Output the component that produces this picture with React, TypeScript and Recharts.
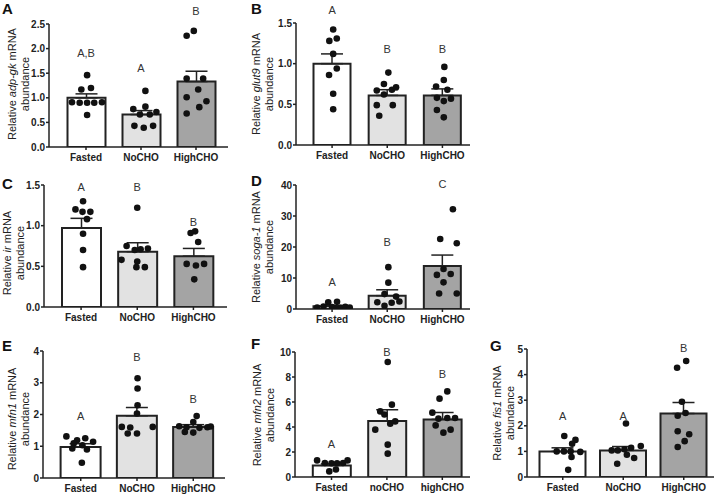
import React from 'react'
import { ComposedChart, Bar, Cell, ErrorBar, Scatter, XAxis, YAxis, ReferenceDot } from 'recharts'

const FONT = '"Liberation Sans", Arial, Helvetica, sans-serif'
const INK = '#222'
const FILLS = ['#ffffff', '#e2e2e2', '#a4a4a4']

const groups = ['Fasted', 'NoCHO', 'HighCHO']
const groupsLower = ['Fasted', 'noCHO', 'highCHO']

// A: adp-gk
const aMeans = [1.0, 0.66, 1.33]
const aSem = [0.08, 0.08, 0.21]
const aDots = [
  [1.46, 1.17, 1.2, 0.91, 0.9, 0.9, 0.9, 0.91, 0.65],
  [1.14, 0.77, 0.82, 0.71, 0.66, 0.66, 0.43, 0.39, 0.43],
  [2.26, 2.36, 1.39, 1.39, 1.17, 1.01, 0.93, 0.81, 0.68],
]
const aJitter = [
  [0.02, -0.085, 0.09, -0.255, -0.115, 0.02, 0.15, 0.29, 0.02],
  [0.08, -0.14, 0.08, 0.28, -0.02, 0.16, -0.12, 0.05, 0.22],
  [-0.17, -0.04, -0.17, 0.13, 0.04, -0.17, 0.19, 0.06, -0.17],
]
const aLetters = ['A,B', 'A', 'B']
const aLetterY = [1.9, 1.6, 2.77]
const aTicks = [0, 0.5, 1, 1.5, 2, 2.5]

// B: glut9
const bMeans = [1.0, 0.61, 0.61]
const bSem = [0.12, 0.07, 0.08]
const bDots = [
  [1.42, 1.28, 1.31, 1.12, 0.94, 0.86, 0.63, 0.44],
  [0.89, 0.75, 0.67, 0.68, 0.71, 0.62, 0.49, 0.49, 0.36],
  [0.96, 0.8, 0.72, 0.68, 0.58, 0.57, 0.54, 0.43, 0.34],
]
const bJitter = [
  [0.02, -0.05, 0.085, 0.02, 0.085, -0.055, 0.02, 0.02],
  [0.02, -0.06, -0.19, 0.085, 0.16, -0.06, -0.19, 0.1, -0.145],
  [0.035, 0.025, -0.115, 0.09, -0.1, 0.155, 0.025, -0.1, 0.025],
]
const bLetters = ['A', 'B', 'B']
const bLetterY = [1.66, 1.18, 1.18]
const bTicks = [0, 0.5, 1, 1.5]

// C: ir
const cMeans = [0.97, 0.68, 0.625]
const cSem = [0.12, 0.11, 0.095]
const cDots = [
  [1.3, 1.2, 1.17, 1.17, 1.08, 0.9, 0.7, 0.49],
  [1.22, 0.75, 0.7, 0.71, 0.72, 0.58, 0.56, 0.49, 0.49],
  [0.93, 0.91, 0.8, 0.53, 0.51, 0.53, 0.34],
]
const cJitter = [
  [0.035, -0.1, 0.025, 0.165, 0.105, 0.035, 0.035, 0.035],
  [0, -0.19, -0.045, 0.06, 0.19, -0.28, 0, -0.015, 0.135],
  [0.03, -0.05, 0.085, -0.12, 0.045, 0.19, 0.015],
]
const cLetters = ['A', 'B', 'B']
const cLetterY = [1.47, 1.47, 1.05]
const cTicks = [0, 0.5, 1, 1.5]

// D: soga-1
const dMeans = [0.9, 4.3, 13.9]
const dSem = [0.25, 1.9, 3.5]
const dDots = [
  [2.2, 2.3, 0.5, 0.8, 0.6, 0.4, 0.7, 0.5, 0.3],
  [13.5, 8.5, 4.8, 4.0, 2.2, 2.4, 2.0, 1.0],
  [32.2, 22.6, 21.2, 12.9, 11.0, 11.3, 8.6, 5.0, 5.0],
]
const dJitter = [
  [-0.07, 0.09, -0.27, -0.155, 0, 0.15, 0.24, 0.32, 0.05],
  [0.02, 0.02, -0.05, 0.16, -0.18, 0.22, 0.08, -0.05],
  [0.19, -0.04, 0.26, 0.02, -0.1, 0.15, 0.02, -0.06, 0.26],
]
const dLetters = ['A', 'B', 'C']
const dLetterY = [8.8, 21.7, 40.3]
const dTicks = [0, 10, 20, 30, 40]

// E: mfn1
const eMeans = [0.98, 1.96, 1.61]
const eSem = [0.1, 0.26, 0.07]
const eDots = [
  [1.31, 1.25, 1.19, 1.14, 1.09, 1.03, 0.93, 0.9, 0.48],
  [3.14, 2.82, 2.29, 2.03, 1.61, 1.59, 1.61, 1.4, 1.4],
  [1.95, 1.76, 1.63, 1.6, 1.58, 1.6, 1.62, 1.45, 1.43],
]
const eJitter = [
  [-0.255, 0.08, -0.065, 0.22, -0.125, 0.03, -0.15, 0.11, 0.02],
  [0.01, 0.01, 0.01, 0, -0.27, -0.12, 0.28, -0.165, 0],
  [0.06, 0, -0.25, -0.12, 0.11, 0.25, 0.31, -0.15, 0],
]
const eLetters = ['A', 'B', 'B']
const eLetterY = [1.96, 3.82, 2.5]
const eTicks = [0, 1, 2, 3, 4]

// F: mfn2
const fMeans = [0.93, 4.48, 4.61]
const fSem = [0.12, 0.9, 0.55]
const fDots = [
  [1.33, 1.12, 1.1, 1.1, 1.12, 1.33, 0.45, 0.6],
  [9.2, 5.79, 5.25, 5.0, 4.45, 4.27, 3.79, 2.59, 1.87],
  [6.85, 6.27, 5.15, 4.67, 4.72, 4.72, 4.13, 3.79, 3.55],
]
const fJitter = [
  [-0.26, -0.12, 0, 0.1, 0.21, 0.29, -0.04, 0.08],
  [0.015, 0.09, -0.12, -0.045, 0.15, 0.06, -0.21, 0.015, 0.015],
  [0.09, -0.05, -0.18, -0.07, 0.09, 0.23, -0.12, 0.15, 0.02],
]
const fLetters = ['A', 'B', 'B']
const fLetterY = [2.6, 10.0, 8.2]
const fTicks = [0, 2, 4, 6, 8, 10]

// G: fis1
const gMeans = [1.0, 1.04, 2.48]
const gSem = [0.14, 0.15, 0.43]
const gDots = [
  [1.6, 1.45, 1.3, 1.0, 1.0, 1.0, 0.98, 0.78, 0.28],
  [2.09, 1.21, 1.14, 1.04, 1.08, 1.04, 0.87, 0.74, 0.52],
  [4.27, 4.53, 2.94, 2.5, 2.39, 1.79, 1.67, 1.4, 1.17],
]
const gJitter = [
  [0.025, 0.21, 0.155, -0.1, 0.02, 0.13, 0.29, 0.145, 0.09],
  [0.045, 0.29, 0.13, -0.09, 0.02, -0.19, 0.06, 0.18, -0.1],
  [-0.11, 0.04, -0.03, 0.03, -0.1, -0.1, 0.09, 0.015, -0.1],
]
const gLetters = ['A', 'A', 'B']
const gLetterY = [2.39, 2.39, 5.05]
const gTicks = [0, 1, 2, 3, 4, 5]

const Y_W = 34
const X_H = 22
const MARGIN = { top: 22, right: 2, left: 0, bottom: 0 }

const panels = [
  { tag: 'A', gene: 'adp-gk', cats: groups, means: aMeans, sem: aSem, dots: aDots, jitter: aJitter, letters: aLetters, letterY: aLetterY, ticks: aTicks, dec: 1,
    axisX: 49, xEnd: 228, top: 24, bottom: 147, padL: 9.5, padR: 4.5, barSize: 38, tagPos: [2, 1], label: [18.5, 84] },
  { tag: 'B', gene: 'glut9', cats: groups, means: bMeans, sem: bSem, dots: bDots, jitter: bJitter, letters: bLetters, letterY: bLetterY, ticks: bTicks, dec: 1,
    axisX: 296, xEnd: 470, top: 23, bottom: 145, padL: 8.5, padR: 0, barSize: 37, tagPos: [251, 1], label: [263, 84] },
  { tag: 'C', gene: 'ir', cats: groups, means: cMeans, sem: cSem, dots: cDots, jitter: cJitter, letters: cLetters, letterY: cLetterY, ticks: cTicks, dec: 1,
    axisX: 44, xEnd: 227, top: 185, bottom: 307, padL: 9, padR: 5.5, barSize: 39, tagPos: [2, 176], label: [14, 253] },
  { tag: 'D', gene: 'soga-1', cats: groups, means: dMeans, sem: dSem, dots: dDots, jitter: dJitter, letters: dLetters, letterY: dLetterY, ticks: dTicks, dec: 0,
    axisX: 296, xEnd: 470, top: 185, bottom: 309, padL: 8.5, padR: 0, barSize: 37, tagPos: [251, 173], label: [263, 247] },
  { tag: 'E', gene: 'mfn1', cats: groups, means: eMeans, sem: eSem, dots: eDots, jitter: eJitter, letters: eLetters, letterY: eLetterY, ticks: eTicks, dec: 0,
    axisX: 43, xEnd: 225, top: 351, bottom: 478, padL: 9.6, padR: 3.6, barSize: 40, tagPos: [2, 338], label: [19, 419] },
  { tag: 'F', gene: 'mfn2', cats: groupsLower, means: fMeans, sem: fSem, dots: fDots, jitter: fJitter, letters: fLetters, letterY: fLetterY, ticks: fTicks, dec: 0,
    axisX: 295, xEnd: 470, top: 352, bottom: 477, padL: 8.8, padR: 0, barSize: 38, tagPos: [251, 336], label: [264, 415] },
  { tag: 'G', gene: 'fis1', cats: groups, means: gMeans, sem: gSem, dots: gDots, jitter: gJitter, letters: gLetters, letterY: gLetterY, ticks: gTicks, dec: 0,
    axisX: 527, xEnd: 714, top: 349, bottom: 477, padL: 5.5, padR: 0, barSize: 46, tagPos: [490, 338], label: [504, 413] },
]

const renderDot = (props: any) => <circle cx={props.cx} cy={props.cy} r={3.3} fill="#111" />

// group letter drawn at the centre of an invisible reference dot
const letterLabel = (text: string) => (props: any) => {
  const vb = props.viewBox || {}
  const cx = (vb.x ?? 0) + (vb.width ?? 0) / 2
  const cy = (vb.y ?? 0) + (vb.height ?? 0) / 2
  return (
    <text x={cx} y={cy} dy="0.36em" textAnchor="middle" fill="#333" fontSize={11} fontFamily={FONT}>
      {text}
    </text>
  )
}

function Panel({ p }: { p: any }) {
  const barData = p.cats.map((c: string, i: number) => ({ cat: c, y: p.means[i], err: [0, p.sem[i]] }))
  const dotData = p.dots.flatMap((vals: number[], i: number) =>
    vals.map((v, j) => ({ x: i + 1 + p.jitter[i][j], y: v }))
  )
  const plotW = p.xEnd - p.axisX
  const plotH = p.bottom - p.top
  const max = p.ticks[p.ticks.length - 1]
  const pad = { left: p.padL, right: p.padR }

  return (
    <div style={{ position: 'absolute', left: p.axisX - Y_W, top: p.top - MARGIN.top }}>
      <ComposedChart width={Y_W + plotW + MARGIN.right} height={MARGIN.top + plotH + X_H} data={barData} margin={MARGIN}>
        <XAxis
          xAxisId="cat"
          dataKey="cat"
          type="category"
          padding={pad}
          height={X_H}
          interval={0}
          axisLine={{ stroke: INK, strokeWidth: 1.5 }}
          tickLine={{ stroke: INK, strokeWidth: 1.5 }}
          tickSize={3}
          tickMargin={3.5}
          tick={{ fill: INK, fontSize: 10, fontWeight: 700, fontFamily: FONT }}
        />
        <XAxis xAxisId="num" dataKey="x" type="number" domain={[0.5, 3.5]} padding={pad} allowDataOverflow hide />
        <YAxis
          type="number"
          domain={[0, max]}
          ticks={p.ticks}
          interval={0}
          allowDataOverflow
          width={Y_W}
          axisLine={{ stroke: INK, strokeWidth: 1.5 }}
          tickLine={{ stroke: INK, strokeWidth: 1.5 }}
          tickSize={3}
          tickMargin={1}
          tick={{ fill: INK, fontSize: 10, fontWeight: 700, fontFamily: FONT }}
          tickFormatter={(v: number) => v.toFixed(p.dec)}
        />
        <Bar xAxisId="cat" dataKey="y" barSize={p.barSize} stroke={INK} strokeWidth={2} isAnimationActive={false}>
          {barData.map((_: any, i: number) => (
            <Cell key={`cell-${i}`} fill={FILLS[i]} />
          ))}
          <ErrorBar dataKey="err" direction="y" width={11} stroke={INK} strokeWidth={1.5} />
        </Bar>
        <Scatter xAxisId="num" data={dotData} dataKey="y" shape={renderDot} isAnimationActive={false} />
        {p.letters.map((l: string, i: number) => (
          <ReferenceDot
            key={`lt-${i}`}
            xAxisId="num"
            x={i + 1}
            y={p.letterY[i]}
            r={1}
            fill="none"
            stroke="none"
            ifOverflow="visible"
            label={letterLabel(l)}
          />
        ))}
      </ComposedChart>
    </div>
  )
}

function AxisTitle({ p }: { p: any }) {
  const [cx, cy] = p.label
  return (
    <div
      style={{
        position: 'absolute',
        left: cx - 80,
        top: cy - 13,
        width: 160,
        height: 26,
        transform: 'rotate(-90deg)',
        textAlign: 'center',
        fontFamily: FONT,
        fontSize: 11,
        lineHeight: '13px',
        color: INK,
        whiteSpace: 'nowrap',
      }}
    >
      <div>
        Relative <i>{p.gene}</i> mRNA
      </div>
      <div>abundance</div>
    </div>
  )
}

export default function App() {
  return (
    <div style={{ position: 'absolute', left: 0, top: 0, width: 715, height: 494, background: '#fff', overflow: 'hidden' }}>
      {panels.map(p => (
        <React.Fragment key={p.tag}>
          <Panel p={p} />
          <AxisTitle p={p} />
          <div
            style={{
              position: 'absolute',
              left: p.tagPos[0],
              top: p.tagPos[1],
              fontFamily: FONT,
              fontWeight: 700,
              fontSize: 15,
              lineHeight: '15px',
              color: '#111',
            }}
          >
            {p.tag}
          </div>
        </React.Fragment>
      ))}
    </div>
  )
}
